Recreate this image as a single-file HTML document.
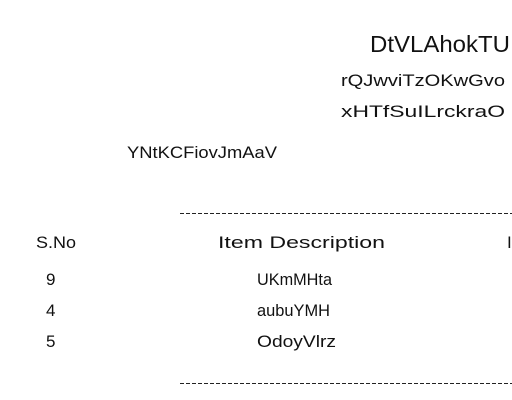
<!DOCTYPE html>
<html><head><style>html,body{margin:0;padding:0;background:#fff}svg{display:block}</style></head>
<body>
<svg width="512" height="400" xmlns="http://www.w3.org/2000/svg" font-family="'Liberation Sans', sans-serif" fill="#111">
<text x="370" y="52" font-size="23" textLength="140" lengthAdjust="spacingAndGlyphs">DtVLAhokTU</text>
<text x="341" y="86" font-size="17" textLength="164" lengthAdjust="spacingAndGlyphs">rQJwviTzOKwGvo</text>
<text x="341" y="117" font-size="17" textLength="164" lengthAdjust="spacingAndGlyphs">xHTfSuILrckraO</text>
<text x="127" y="158" font-size="17" textLength="150" lengthAdjust="spacingAndGlyphs">YNtKCFiovJmAaV</text>
<line x1="180" y1="213.5" x2="512" y2="213.5" stroke="#222" stroke-width="1" stroke-dasharray="4 2"/>
<text x="36" y="248" font-size="17" textLength="40" lengthAdjust="spacingAndGlyphs">S.No</text>
<text x="218" y="248" font-size="17" textLength="167" lengthAdjust="spacingAndGlyphs">Item Description</text>
<text x="507" y="248" font-size="17">I</text>
<text x="46" y="285" font-size="17">9</text>
<text x="257" y="285" font-size="17" textLength="75" lengthAdjust="spacingAndGlyphs">UKmMHta</text>
<text x="46" y="316" font-size="17">4</text>
<text x="257" y="316" font-size="17" textLength="73" lengthAdjust="spacingAndGlyphs">aubuYMH</text>
<text x="46" y="347" font-size="17">5</text>
<text x="257" y="347" font-size="17" textLength="79" lengthAdjust="spacingAndGlyphs">OdoyVlrz</text>
<line x1="180" y1="383.5" x2="512" y2="383.5" stroke="#222" stroke-width="1" stroke-dasharray="4 2"/>
</svg>
</body></html>
